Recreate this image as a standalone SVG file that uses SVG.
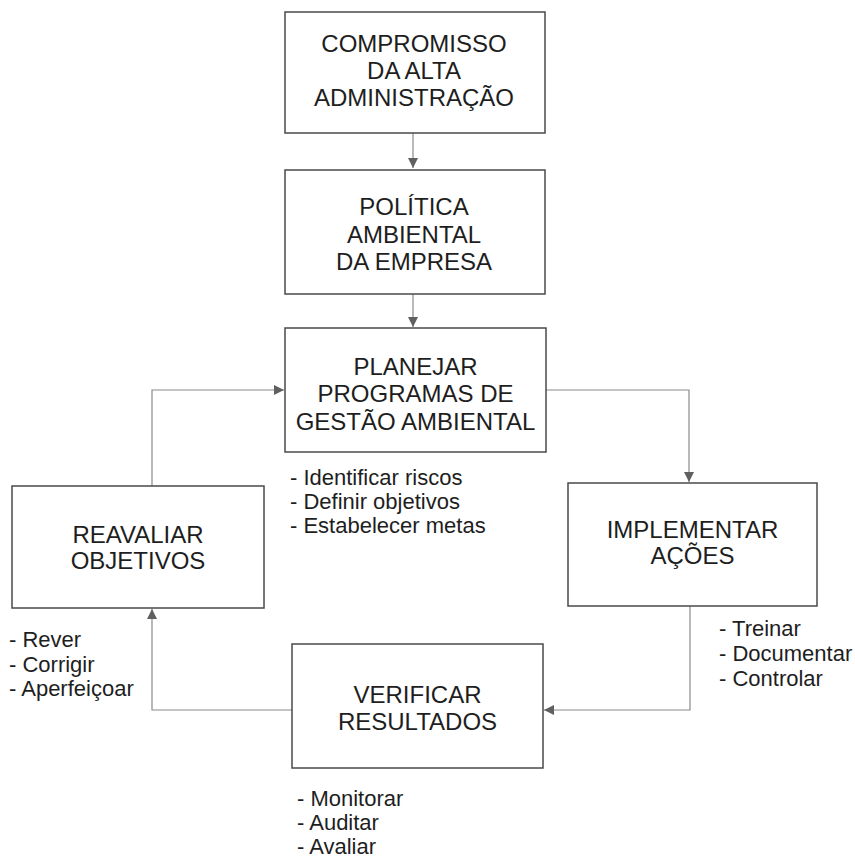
<svg xmlns="http://www.w3.org/2000/svg" width="855" height="860" viewBox="0 0 855 860">
  <style>
    .box { fill: #ffffff; stroke: #4a4a4a; stroke-width: 1.5; }
    .lbl { font-family: "Liberation Sans", Arial, sans-serif; font-size: 24px; fill: #1e1e1e; text-anchor: middle; }
    .lst { font-family: "Liberation Sans", Arial, sans-serif; font-size: 22px; fill: #1e1e1e; }
    .conn { fill: none; stroke: #8a8a8a; stroke-width: 1.2; marker-end: url(#arr); }
  </style>
  <defs>
    <marker id="arr" markerUnits="userSpaceOnUse" markerWidth="11" markerHeight="10" refX="10" refY="5" orient="auto">
      <path d="M0,0 L10,5 L0,10 z" fill="#606060"/>
    </marker>
  </defs>
  <rect width="855" height="860" fill="#ffffff"/>

  <g id="connectors">
    <path class="conn" d="M413,133 L413,168"/>
    <path class="conn" d="M413,294 L413,327"/>
    <path class="conn" d="M546,390 L689,390 L689,482"/>
    <path class="conn" d="M690,606 L690,710 L544,710"/>
    <path class="conn" d="M292,710 L152,710 L152,609"/>
    <path class="conn" d="M152,486 L152,390 L284,390"/>
  </g>

  <g id="compromisso">
    <rect class="box" x="285" y="12" width="260" height="121"/>
    <text class="lbl" x="414" y="52">COMPROMISSO</text>
    <text class="lbl" x="414" y="79">DA ALTA</text>
    <text class="lbl" x="414" y="106">ADMINISTRAÇÃO</text>
  </g>

  <g id="politica">
    <rect class="box" x="285" y="170" width="260" height="124"/>
    <text class="lbl" x="414" y="215">POLÍTICA</text>
    <text class="lbl" x="414" y="243">AMBIENTAL</text>
    <text class="lbl" x="414" y="270">DA EMPRESA</text>
  </g>

  <g id="planejar">
    <rect class="box" x="285" y="328" width="261" height="124"/>
    <text class="lbl" x="415.5" y="375">PLANEJAR</text>
    <text class="lbl" x="415.5" y="402">PROGRAMAS DE</text>
    <text class="lbl" x="415.5" y="430">GESTÃO AMBIENTAL</text>
    <text class="lst" x="290" y="485">- Identificar riscos</text>
    <text class="lst" x="290" y="509">- Definir objetivos</text>
    <text class="lst" x="290" y="533">- Estabelecer metas</text>
  </g>

  <g id="implementar">
    <rect class="box" x="568" y="483" width="249" height="123"/>
    <text class="lbl" x="692.5" y="538">IMPLEMENTAR</text>
    <text class="lbl" x="692.5" y="564">AÇÕES</text>
    <text class="lst" x="719" y="636">- Treinar</text>
    <text class="lst" x="719" y="661">- Documentar</text>
    <text class="lst" x="719" y="686">- Controlar</text>
  </g>

  <g id="verificar">
    <rect class="box" x="292" y="644" width="251" height="124"/>
    <text class="lbl" x="417.5" y="703">VERIFICAR</text>
    <text class="lbl" x="417.5" y="730">RESULTADOS</text>
    <text class="lst" x="297" y="806">- Monitorar</text>
    <text class="lst" x="297" y="830">- Auditar</text>
    <text class="lst" x="297" y="854">- Avaliar</text>
  </g>

  <g id="reavaliar">
    <rect class="box" x="12" y="486" width="252" height="122"/>
    <text class="lbl" x="138" y="543">REAVALIAR</text>
    <text class="lbl" x="138" y="569">OBJETIVOS</text>
    <text class="lst" x="9" y="647">- Rever</text>
    <text class="lst" x="9" y="672">- Corrigir</text>
    <text class="lst" x="9" y="696">- Aperfeiçoar</text>
  </g>
</svg>
